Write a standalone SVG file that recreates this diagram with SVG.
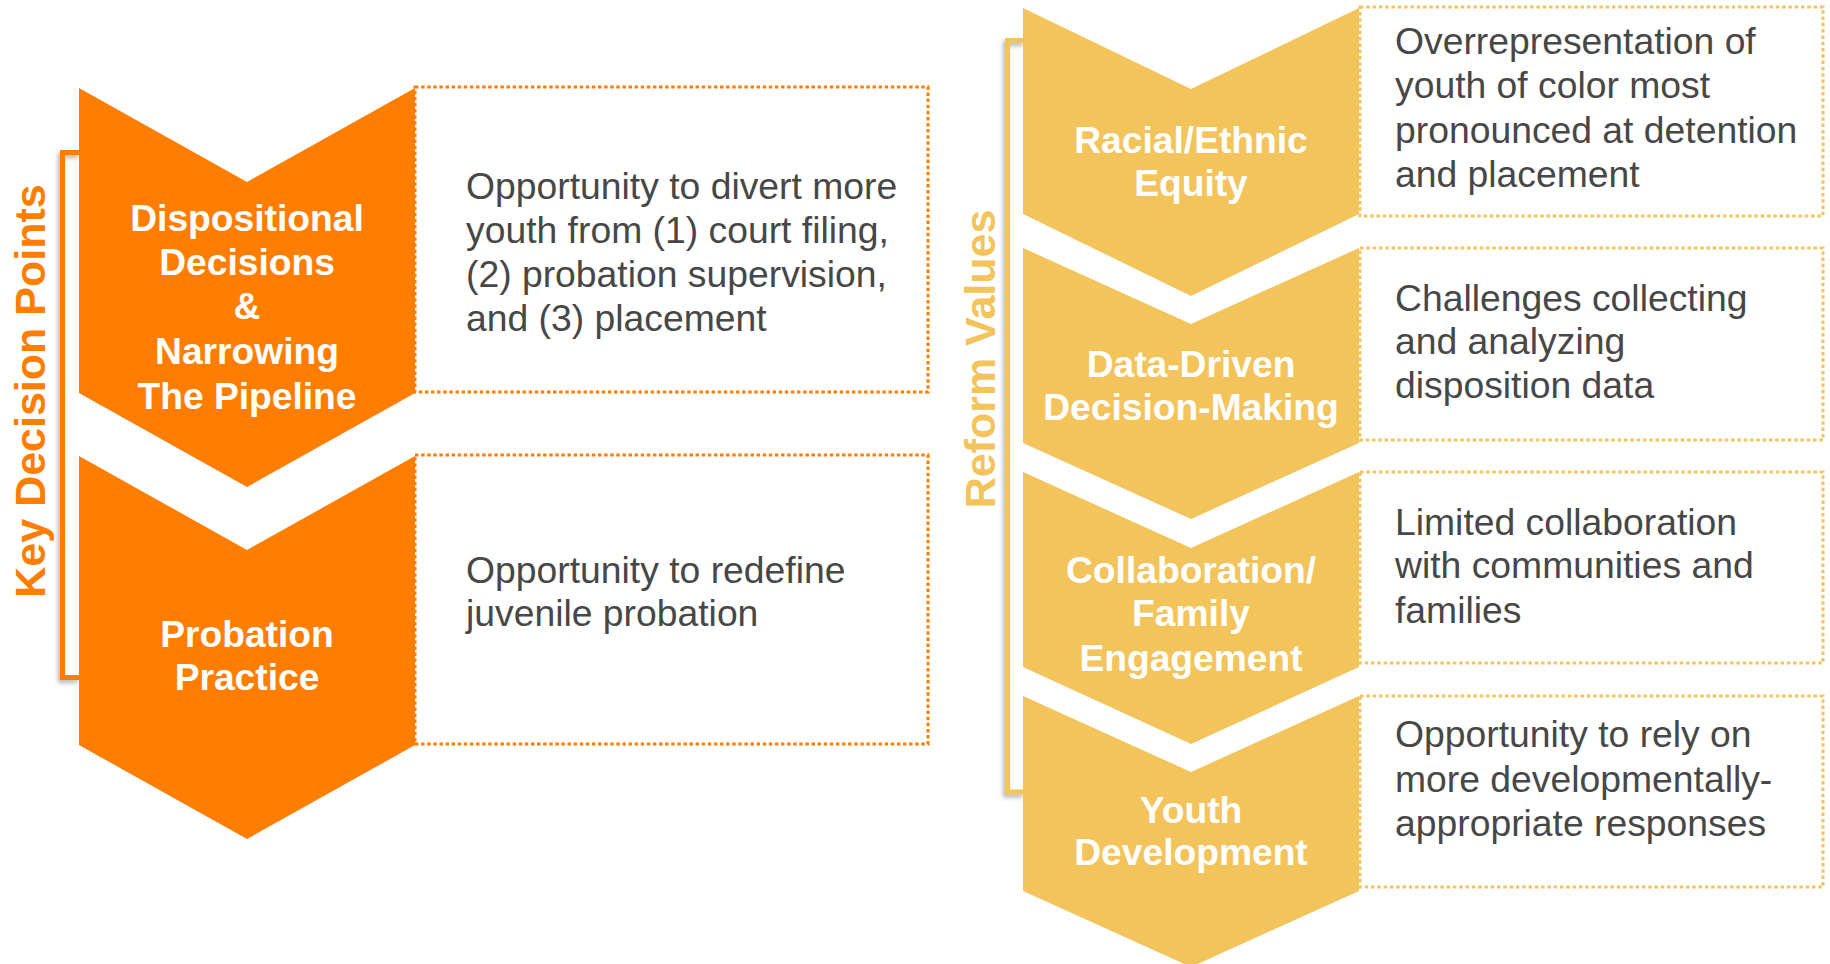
<svg xmlns="http://www.w3.org/2000/svg" width="1830" height="964" viewBox="0 0 1830 964">
  <defs>
    <filter id="shadow" x="-50%" y="-5%" width="200%" height="110%">
      <feDropShadow dx="-2" dy="3" stdDeviation="2" flood-color="#7a7a7a" flood-opacity="0.55"/>
    </filter>
  </defs>
  <style>
    .orange { fill: #FF7D00; }
    .gold { fill: #F3C45B; }
    .box-o { fill: #ffffff; stroke: #FF7D00; stroke-width: 3; stroke-dasharray: 3.5 2.6; }
    .box-g { fill: #ffffff; stroke: #F3C45B; stroke-width: 3; stroke-dasharray: 3.5 2.8; }
    .label { font-family: "Liberation Sans", Arial, sans-serif; font-weight: bold; font-size: 37.2px; fill: #ffffff; text-anchor: middle; }
    .desc { font-family: "Liberation Sans", Arial, sans-serif; font-size: 37.3px; fill: #474747; }
    .title { font-family: "Liberation Sans", Arial, sans-serif; font-weight: bold; font-size: 43px; text-anchor: middle; }
    .bracket { fill: none; stroke-width: 5; filter: url(#shadow); }
  </style>

  <!-- side brackets -->
  <g id="connectors">
    <path class="bracket" d="M80,152.5 H62.5 V677.5 H80" stroke="#FF7D00"/>
    <path class="bracket" d="M1025,40.5 H1007.5 V792 H1025" stroke="#F3C45B"/>
  </g>

  <!-- column headings -->
  <text class="title" fill="#FF7D00" transform="translate(44.5,391) rotate(-90)">Key Decision Points</text>
  <text class="title" fill="#F3C45B" transform="translate(995,359) rotate(-90)">Reform Values</text>

  <!-- Key decision points -->
  <g id="dispositional">
    <rect class="box-o" x="415" y="87" width="513" height="305"/>
    <polygon class="orange" points="79,88 247,182 415,88 415,393 247,487 79,393"/>
    <text class="label" x="247" y="231">Dispositional</text>
    <text class="label" x="247" y="275">Decisions</text>
    <text class="label" x="247" y="319">&amp;</text>
    <text class="label" x="247" y="364">Narrowing</text>
    <text class="label" x="247" y="409">The Pipeline</text>
    <text class="desc" x="466" y="199">Opportunity to divert more</text>
    <text class="desc" x="466" y="243">youth from (1) court filing,</text>
    <text class="desc" x="466" y="287">(2) probation supervision,</text>
    <text class="desc" x="466" y="331">and (3) placement</text>
  </g>

  <g id="probation">
    <rect class="box-o" x="415" y="455" width="513" height="289"/>
    <polygon class="orange" points="79,456 247,550 415,456 415,745 247,839 79,745"/>
    <text class="label" x="247" y="647">Probation</text>
    <text class="label" x="247" y="690">Practice</text>
    <text class="desc" x="466" y="583">Opportunity to redefine</text>
    <text class="desc" x="466" y="626">juvenile probation</text>
  </g>

  <!-- Reform values -->
  <g id="equity">
    <rect class="box-g" x="1360" y="7" width="463" height="209"/>
    <polygon class="gold" points="1023,8 1191,89 1359,8 1359,214 1191,296 1023,214"/>
    <text class="label" x="1191" y="153">Racial/Ethnic</text>
    <text class="label" x="1191" y="196">Equity</text>
    <text class="desc" x="1395" y="54">Overrepresentation of</text>
    <text class="desc" x="1395" y="98">youth of color most</text>
    <text class="desc" x="1395" y="143">pronounced at detention</text>
    <text class="desc" x="1395" y="187">and placement</text>
  </g>

  <g id="data-driven">
    <rect class="box-g" x="1360" y="248" width="463" height="192"/>
    <polygon class="gold" points="1023,248 1191,324 1359,248 1359,443 1191,519 1023,443"/>
    <text class="label" x="1191" y="377">Data-Driven</text>
    <text class="label" x="1191" y="420">Decision-Making</text>
    <text class="desc" x="1395" y="311">Challenges collecting</text>
    <text class="desc" x="1395" y="354">and analyzing</text>
    <text class="desc" x="1395" y="398">disposition data</text>
  </g>

  <g id="collaboration">
    <rect class="box-g" x="1360" y="472" width="463" height="191"/>
    <polygon class="gold" points="1023,472 1191,548 1359,472 1359,667 1191,744 1023,667"/>
    <text class="label" x="1191" y="583">Collaboration/</text>
    <text class="label" x="1191" y="626">Family</text>
    <text class="label" x="1191" y="671">Engagement</text>
    <text class="desc" x="1395" y="535">Limited collaboration</text>
    <text class="desc" x="1395" y="578">with communities and</text>
    <text class="desc" x="1395" y="623">families</text>
  </g>

  <g id="youth-development">
    <rect class="box-g" x="1360" y="696" width="463" height="191"/>
    <polygon class="gold" points="1023,696 1191,772 1359,696 1359,891 1191,967 1023,891"/>
    <text class="label" x="1191" y="823">Youth</text>
    <text class="label" x="1191" y="865">Development</text>
    <text class="desc" x="1395" y="747">Opportunity to rely on</text>
    <text class="desc" x="1395" y="792">more developmentally-</text>
    <text class="desc" x="1395" y="836">appropriate responses</text>
  </g>
</svg>
